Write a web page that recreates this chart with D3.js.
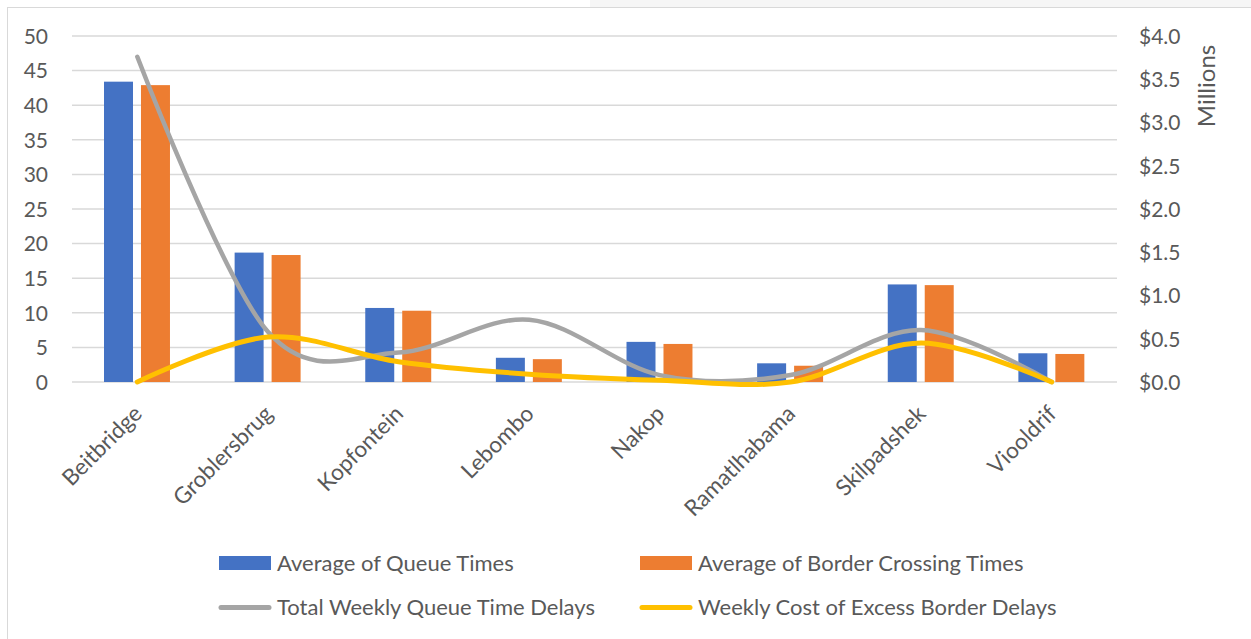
<!DOCTYPE html>
<html>
<head>
<meta charset="utf-8">
<script src="https://cdn.jsdelivr.net/npm/d3@7/dist/d3.min.js"></script>
<style>
  html, body { margin: 0; padding: 0; background: #fff; }
  svg { display: block; font-family: Lato, "Open Sans", sans-serif; }
</style>
</head>
<body>
<svg id="chart" width="1251" height="639"></svg>
<script>
// ---- data ----
const categories = ["Beitbridge", "Groblersbrug", "Kopfontein", "Lebombo", "Nakop", "Ramatlhabama", "Skilpadshek", "Viooldrif"];
const queueTimes = [43.4, 18.7, 10.7, 3.5, 5.8, 2.7, 14.1, 4.15];
const borderCrossingTimes = [42.9, 18.35, 10.3, 3.3, 5.5, 2.35, 14.0, 4.05];
const weeklyQueueDelays = [3.76, 0.58, 0.34, 0.72, 0.08, 0.08, 0.60, 0.0];   // millions $
const weeklyExcessCost = [0.0, 0.52, 0.235, 0.09, 0.02, 0.0, 0.45, 0.0];     // millions $
const leftTicks = [0, 5, 10, 15, 20, 25, 30, 35, 40, 45, 50];
const rightTicks = [0, 0.5, 1.0, 1.5, 2.0, 2.5, 3.0, 3.5, 4.0];
const seriesNames = ["Average of Queue Times", "Average of Border Crossing Times", "Total Weekly Queue Time Delays", "Weekly Cost of Excess Border Delays"];
const colors = ["#4472C4", "#ED7D31", "#A5A5A5", "#FFC000"];

// ---- layout ----
const svg = d3.select("#chart");
const plot = { left: 72, right: 1117, top: 36, bottom: 382 };
const textColor = "#595959";
const fontSize = 21;

// background frame
svg.append("rect").attr("x", 590).attr("y", 0).attr("width", 661).attr("height", 7).attr("fill", "#f6f6f6");
svg.append("rect").attr("x", 7.5).attr("y", 7.5).attr("width", 1300).attr("height", 700)
  .attr("fill", "#fff").attr("stroke", "#d9d9d9").attr("stroke-width", 1);

const x0 = d3.scaleBand().domain(categories).range([plot.left, plot.right]).paddingInner(0).paddingOuter(0);
const bw = x0.bandwidth();
const x1 = d3.scaleBand().domain([0, 1]).range([bw * 0.245, bw * 0.75]).paddingInner(0.216);
const yL = d3.scaleLinear().domain([0, 50]).range([plot.bottom, plot.top]);
const yR = d3.scaleLinear().domain([0, 4]).range([plot.bottom, plot.top]);

// gridlines
svg.append("g").selectAll("line").data(leftTicks).join("line")
  .attr("x1", plot.left).attr("x2", plot.right)
  .attr("y1", d => yL(d)).attr("y2", d => yL(d))
  .attr("stroke", "#d9d9d9").attr("stroke-width", 1.5);

// left axis
const axL = d3.axisLeft(yL).tickValues(leftTicks).tickSize(0).tickPadding(0);
const gL = svg.append("g").attr("transform", `translate(48,0)`).call(axL);
gL.select(".domain").remove();
gL.selectAll("text").attr("fill", textColor).attr("font-size", fontSize).attr("font-family", "Lato").attr("dy", "0.35em");

// right axis
const axR = d3.axisRight(yR).tickValues(rightTicks).tickSize(0).tickPadding(0).tickFormat(d3.format("$.1f"));
const gR = svg.append("g").attr("transform", `translate(1139,0)`).call(axR);
gR.select(".domain").remove();
gR.selectAll("text").attr("fill", textColor).attr("font-size", fontSize).attr("font-family", "Lato").attr("dy", "0.35em");

svg.append("text").attr("transform", "translate(1207,86) rotate(-90)")
  .attr("text-anchor", "middle").attr("dy", "0.35em")
  .attr("fill", textColor).attr("font-size", 24).text("Millions");

// bars
const barSeries = [queueTimes, borderCrossingTimes];
barSeries.forEach((vals, si) => {
  svg.append("g").selectAll("rect").data(categories).join("rect")
    .attr("x", (c) => x0(c) + x1(si))
    .attr("width", x1.bandwidth())
    .attr("y", (c, i) => yL(vals[i]))
    .attr("height", (c, i) => yL(0) - yL(vals[i]))
    .attr("fill", colors[si]);
});

// lines
const cx = c => x0(c) + bw / 2;
const lineGen = d3.line().x(d => cx(d.c)).y(d => yR(d.v)).curve(d3.curveCardinal.tension(0));
[[weeklyQueueDelays, 2, 4.5], [weeklyExcessCost, 3, 5]].forEach(([vals, ci, w]) => {
  svg.append("path")
    .datum(categories.map((c, i) => ({ c, v: vals[i] })))
    .attr("d", lineGen)
    .attr("fill", "none").attr("stroke", colors[ci]).attr("stroke-width", w)
    .attr("stroke-linecap", "round").attr("stroke-linejoin", "round");
});

// x labels
const axB = d3.axisBottom(x0).tickSize(0).tickPadding(0);
const gB = svg.append("g").attr("transform", `translate(0,${plot.bottom})`).call(axB);
gB.select(".domain").remove();
gB.selectAll(".tick text")
  .attr("transform", "translate(-5,22) rotate(-45)")
  .attr("text-anchor", "end").attr("dy", "0.7em").attr("y", 0).attr("x", 0)
  .attr("fill", textColor).attr("font-size", 22.5).attr("font-family", "Lato");

// legend
const legend = [
  { name: seriesNames[0], color: colors[0], type: "rect", x: 219, y: 563 },
  { name: seriesNames[1], color: colors[1], type: "rect", x: 640, y: 563 },
  { name: seriesNames[2], color: colors[2], type: "line", x: 219, y: 607.5 },
  { name: seriesNames[3], color: colors[3], type: "line", x: 640, y: 607.5 }
];
const lg = svg.append("g").selectAll("g").data(legend).join("g");
lg.filter(d => d.type === "rect").append("rect")
  .attr("x", d => d.x).attr("y", d => d.y - 7).attr("width", 52).attr("height", 14).attr("fill", d => d.color);
lg.filter(d => d.type === "line").append("line")
  .attr("x1", d => d.x + 2).attr("x2", d => d.x + 50).attr("y1", d => d.y).attr("y2", d => d.y)
  .attr("stroke", d => d.color).attr("stroke-width", 5).attr("stroke-linecap", "round");
lg.append("text").attr("x", d => d.x + 58).attr("y", d => d.y).attr("dy", "0.35em")
  .attr("fill", textColor).attr("font-size", 22).text(d => d.name);
</script>
</body>
</html>
